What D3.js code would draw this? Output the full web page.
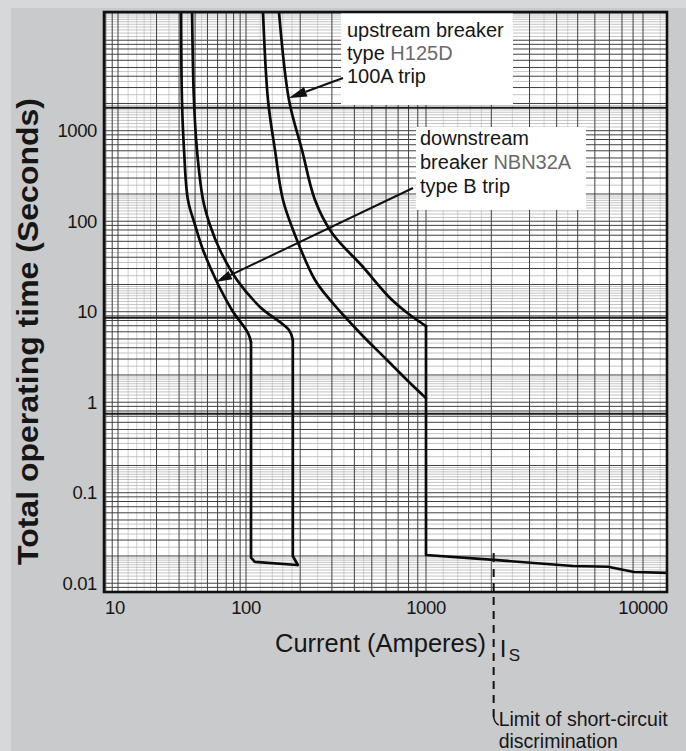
<!DOCTYPE html>
<html><head><meta charset="utf-8">
<script src="https://cdn.jsdelivr.net/npm/d3@7/dist/d3.min.js"></script>
<style>
body{margin:0;background:#c9cacc}
svg{display:block}
text{font-family:"Liberation Sans",Arial,Helvetica,sans-serif;fill:#161616}
</style>
</head><body>
<svg id="chart" width="686" height="751"></svg>
<script>
// ---------- data ----------
const xTickValues = [10, 100, 1000, 10000];
const xTickLabels = ["10", "100", "1000", "10000"];
const yTickValues = [0.01, 0.1, 1, 10, 100, 1000];
const yTickLabels = ["0.01", "0.1", "1", "10", "100", "1000"];

// downstream breaker NBN32A, type B trip (current A, time s)
const nbnFastCurve = [[31.1,20500],[31.6,2185],[32.8,612],[35.2,171.6],[40.0,90.8],[46.2,48.1],[58.3,22.4],[77.8,10.4],[102.6,5.82],[106.6,4.61]];
const nbnFastTail  = [[106.6,4.61],[106.6,0.0192],[112,0.0172],[192,0.0159]];
const nbnSlowCurve = [[37.9,20500],[39.2,2185],[41.4,612],[46.2,171.6],[52.3,90.8],[62.6,48.1],[85.1,22.4],[119.6,11.3],[173.3,6.28],[182,4.86]];
const nbnSlowTail  = [[182,4.86],[182,0.0200],[194,0.0159]];
// upstream breaker H125D, 100A trip
const h125FastCurve = [[124.3,20500],[132.5,2185],[144.9,612],[160.5,171.6],[192,62],[241.7,22.4],[292.9,13.5],[430,5.82],[607,2.93],[815,1.63],[1000,1.11]];
const h125SlowCurve = [[152.5,20500],[173.3,2185],[204.7,612],[241.7,171.6],[300.4,74.1],[446.7,31.2],[631,14.2],[815,9.2],[1000,6.95]];
const h125SlowTail  = [[1000,6.95],[1000,0.0205],[2056,0.0181],[4750,0.0155],[6900,0.0152],[9090,0.0133],[12900,0.0130]];

const heavyGridTimes = [1790, 8.6, 0.745];
const limitCurrent = 2050;          // I_S
const limitTime = 0.0185;
const upstreamArrowTip = [173, 2300];
const downstreamArrowTip = [58.3, 21.3];

const gridMajorMult = [1,2,3,4,5,6,7,8,9];
const gridMinorMultX = [1.2,1.4,1.6,1.8,2.5,3.5,4.5];
const gridMinorMultY = [1.1,1.2,1.3,1.4,1.5,1.6,1.7,1.8,1.9,2.5,3.5,4.5];

// ---------- layout ----------
const svg = d3.select("#chart");
const P = {left:104, right:667, top:12, bottom:592};
const x = d3.scaleLog().domain([7.75,10,100,1000,10000,12900]).range([P.left,118,246,426,643,P.right]);
const y = d3.scaleLog().domain([0.008,20500]).range([P.bottom,P.top]);

svg.append("rect").attr("width",686).attr("height",751).attr("fill","#d7d8da");
svg.append("rect").attr("x",11).attr("y",8).attr("width",686).attr("height",751).attr("fill","#c9cacc");

svg.append("defs").append("clipPath").attr("id","clip")
  .append("rect").attr("x",P.left).attr("y",P.top).attr("width",P.right-P.left).attr("height",P.bottom-P.top);

svg.append("rect").attr("x",P.left).attr("y",P.top).attr("width",P.right-P.left).attr("height",P.bottom-P.top).attr("fill","#fff");

function gridVals(scale, mults){
  const [lo,hi] = d3.extent(scale.domain());
  const out=[];
  for(let k=-4;k<=5;k++) for(const m of mults){
    const v = +(m*Math.pow(10,k)).toPrecision(6);
    if(v>lo*1.0001 && v<hi*0.9999) out.push(v);
  }
  return out;
}
const g = svg.append("g").attr("clip-path","url(#clip)");
// minor grid
g.selectAll(".vminor").data(gridVals(x,gridMinorMultX)).join("line")
  .attr("x1",d=>x(d)).attr("x2",d=>x(d)).attr("y1",P.top).attr("y2",P.bottom)
  .attr("stroke","#c8c8c8").attr("stroke-width",0.8);
g.selectAll(".hminor").data(gridVals(y,gridMinorMultY)).join("line")
  .attr("y1",d=>y(d)).attr("y2",d=>y(d)).attr("x1",P.left).attr("x2",P.right)
  .attr("stroke","#b4b4b4").attr("stroke-width",0.8);
// major grid
g.selectAll(".vmajor").data(gridVals(x,gridMajorMult)).join("line")
  .attr("x1",d=>x(d)).attr("x2",d=>x(d)).attr("y1",P.top).attr("y2",P.bottom)
  .attr("stroke","#404040").attr("stroke-width",1);
g.selectAll(".hmajor").data(gridVals(y,gridMajorMult)).join("line")
  .attr("y1",d=>y(d)).attr("y2",d=>y(d)).attr("x1",P.left).attr("x2",P.right)
  .attr("stroke","#404040").attr("stroke-width",1);
g.selectAll(".hheavy").data(heavyGridTimes).join("line")
  .attr("y1",d=>y(d)).attr("y2",d=>y(d)).attr("x1",P.left).attr("x2",P.right)
  .attr("stroke","#1a1a1a").attr("stroke-width",2);

// curves
const smooth = d3.line().x(d=>x(d[0])).y(d=>y(d[1])).curve(d3.curveCatmullRom.alpha(0.5));
const straight = d3.line().x(d=>x(d[0])).y(d=>y(d[1]));
const curveStyle = sel => sel.attr("fill","none").attr("stroke","#0a0a0a").attr("stroke-width",2.7).attr("stroke-linejoin","round").attr("stroke-linecap","round");
[nbnFastCurve,nbnSlowCurve,h125FastCurve,h125SlowCurve].forEach(c=>g.append("path").attr("d",smooth(c)).call(curveStyle));
[nbnFastTail,nbnSlowTail,h125SlowTail].forEach(c=>g.append("path").attr("d",straight(c)).call(curveStyle));

// I_S dashed line
const xs = x(limitCurrent);
svg.append("line").attr("x1",xs).attr("x2",xs).attr("y1",y(limitTime)-6).attr("y2",y(limitTime)+3)
  .attr("stroke","#111").attr("stroke-width",2);
svg.append("line").attr("x1",xs).attr("x2",xs).attr("y1",y(limitTime)+10).attr("y2",717)
  .attr("stroke","#111").attr("stroke-width",2).attr("stroke-dasharray","8,6");
svg.append("path").attr("d",`M${xs},717 q1,6 5,8`).attr("fill","none").attr("stroke","#111").attr("stroke-width",1.5);

// annotation boxes
svg.append("rect").attr("x",341).attr("y",P.top).attr("width",172).attr("height",93).attr("fill","#fff");
svg.append("rect").attr("x",416).attr("y",127).attr("width",170).attr("height",83).attr("fill","#fff");

const ann = (x0,y0,parts)=>{
  const t = svg.append("text").attr("x",x0).attr("y",y0).attr("font-size",20);
  parts.forEach(p=>t.append("tspan").text(p[0]).attr("fill",p[1]||"#161616"));
};
ann(347,37,[["upstream breaker"]]);
ann(347,60,[["type "],["H125D","#6a6a6a"]]);
ann(347,83,[["100A trip"]]);
ann(420,145,[["downstream"]]);
ann(420,169,[["breaker "],["NBN32A","#6a6a6a"]]);
ann(420,193,[["type B trip"]]);

function arrow(x0,y0,tip,len,wid){
  const x1=x(tip[0]), y1=y(tip[1]);
  const a=Math.atan2(y1-y0,x1-x0);
  const bx=x1-len*Math.cos(a), by=y1-len*Math.sin(a);
  svg.append("line").attr("x1",x0).attr("y1",y0).attr("x2",bx).attr("y2",by).attr("stroke","#111").attr("stroke-width",2);
  const px=-Math.sin(a)*wid/2, py=Math.cos(a)*wid/2;
  svg.append("path").attr("d",`M${x1},${y1}L${bx+px},${by+py}L${bx-px},${by-py}Z`).attr("fill","#111");
}
arrow(343,78,upstreamArrowTip,18,10);
arrow(413,188,downstreamArrowTip,16,9);

// border
svg.append("rect").attr("x",P.left).attr("y",P.top).attr("width",P.right-P.left).attr("height",P.bottom-P.top)
  .attr("fill","none").attr("stroke","#111").attr("stroke-width",2.6);

// tick labels
svg.selectAll(".xt").data(xTickValues).join("text")
  .attr("x",(d,i)=>x(d)+(i===0?-3:0)).attr("y",614).attr("text-anchor","middle").attr("font-size",18.5).attr("letter-spacing",-0.4)
  .text((d,i)=>xTickLabels[i]);
svg.selectAll(".yt").data(yTickValues).join("text")
  .attr("x",97).attr("y",d=>y(d)).attr("dy","0.36em").attr("text-anchor","end").attr("font-size",18.5).attr("letter-spacing",-0.4)
  .text((d,i)=>yTickLabels[i]);

// axis titles
svg.append("text").attr("x",275).attr("y",652).attr("font-size",25).attr("textLength",211).attr("lengthAdjust","spacingAndGlyphs").text("Current (Amperes)");
svg.append("text").attr("x",xs+6).attr("y",657).attr("font-size",24).text("I");
svg.append("text").attr("x",xs+15).attr("y",661).attr("font-size",17).text("S");
svg.append("text").attr("transform","translate(38,331.5) rotate(-90)").attr("text-anchor","middle")
  .attr("font-size",29).attr("font-weight","bold").attr("textLength",467).attr("lengthAdjust","spacingAndGlyphs").text("Total operating time (Seconds)");

svg.append("text").attr("x",xs+5).attr("y",726).attr("font-size",19.5).text("Limit of short-circuit");
svg.append("text").attr("x",xs+5).attr("y",748).attr("font-size",19.5).text("discrimination");
</script>
</body></html>
